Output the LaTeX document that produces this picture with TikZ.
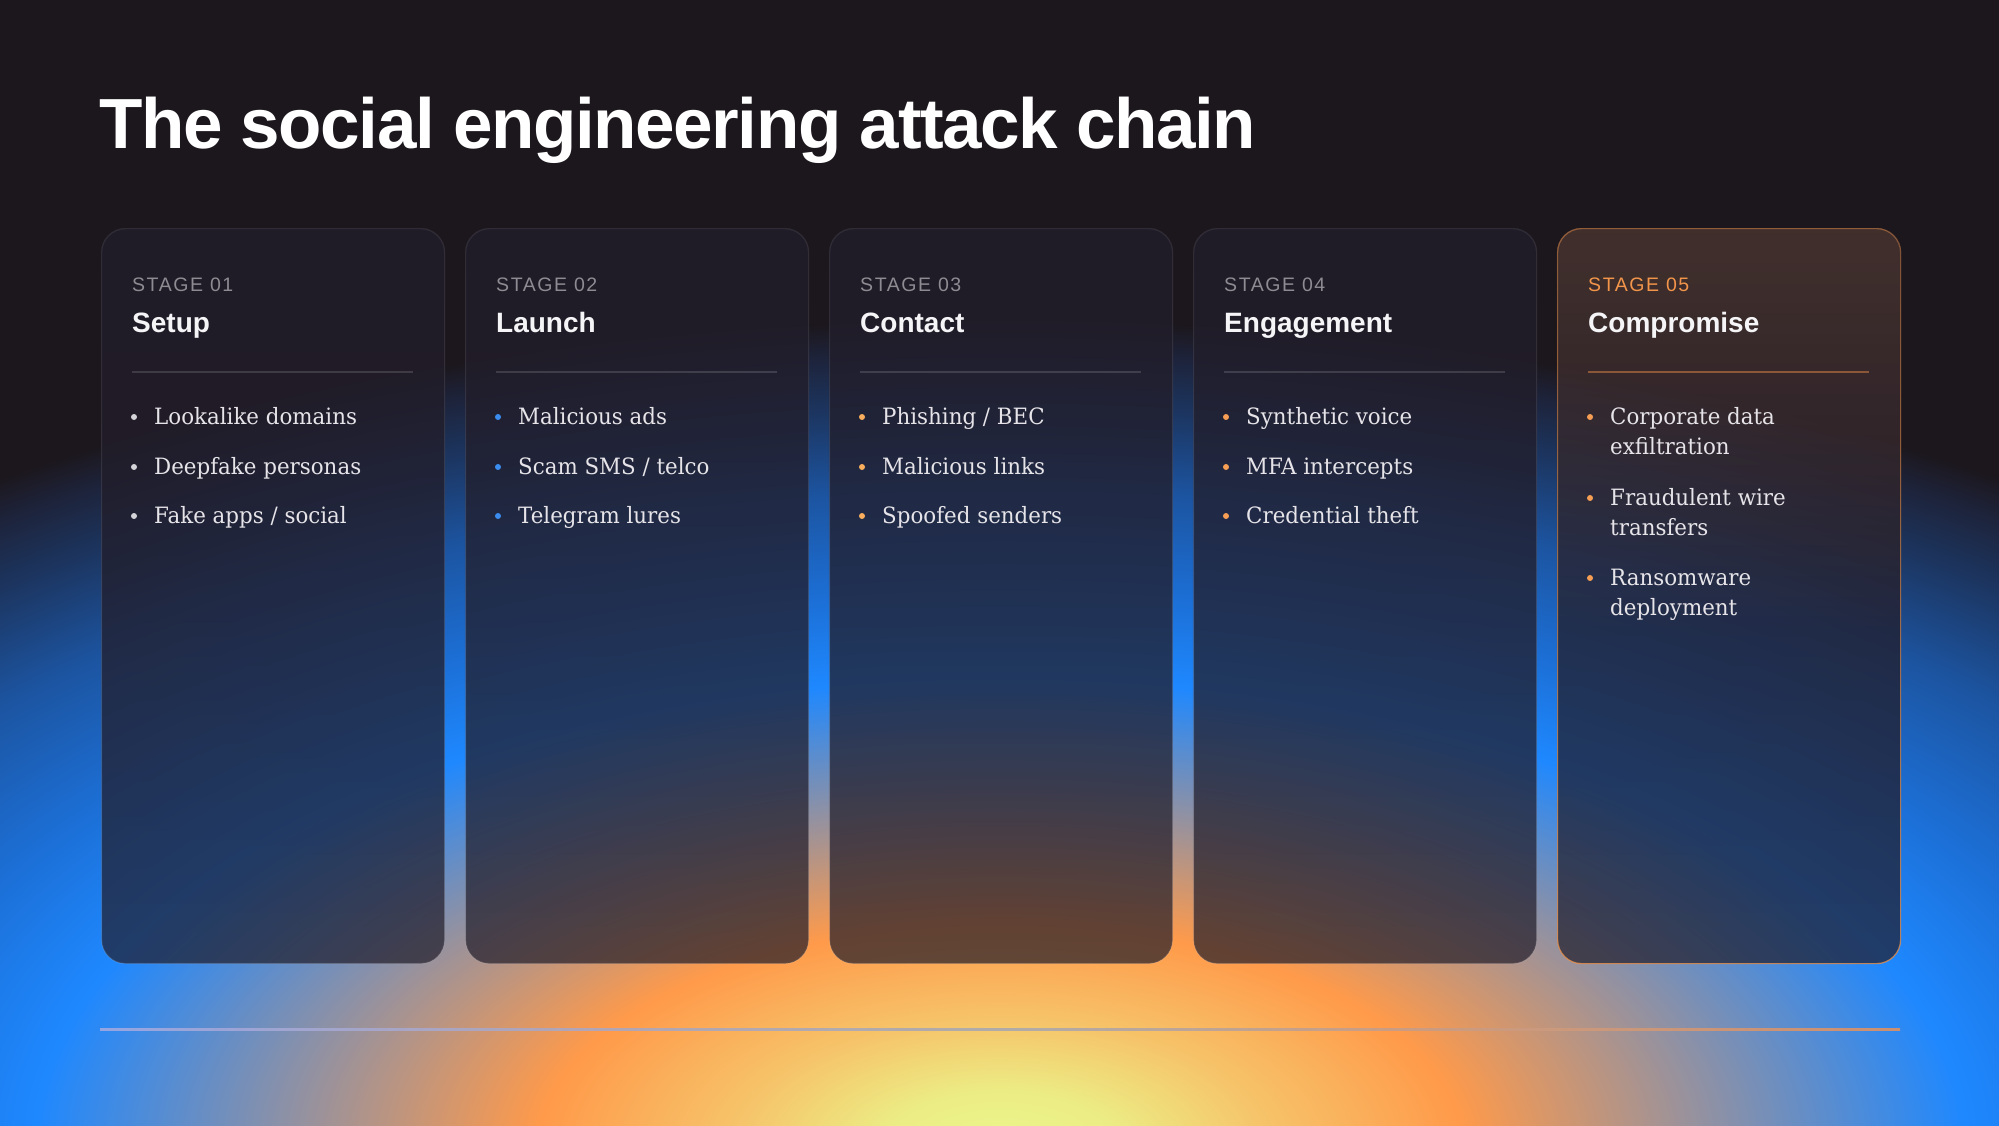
\documentclass[tikz,border=0pt]{standalone}
\usepackage{fontspec}
\usetikzlibrary{fadings}
\setmainfont{DejaVu Serif}[FakeStretch=0.95]
\newfontfamily\titlefont{Liberation Sans}[LetterSpace=-2]
\newfontfamily\headfont{Liberation Sans}
\newfontfamily\stagefont{Liberation Sans}[LetterSpace=8]

\definecolor{bgdark}{HTML}{1C171D}
\definecolor{g0}{HTML}{EAF88C}
\definecolor{g1}{HTML}{ECEC84}
\definecolor{g2}{HTML}{F6C46A}
\definecolor{g3}{HTML}{FF9A4A}
\definecolor{g4}{HTML}{1E88FF}
\definecolor{g5}{HTML}{1C6ED4}
\definecolor{g6}{HTML}{1C54A0}
\definecolor{g7}{HTML}{1C3662}
\definecolor{g8}{HTML}{1D2238}
\definecolor{cardbase}{HTML}{221E2B}
\definecolor{stagegray}{HTML}{8E8B93}
\definecolor{accent}{HTML}{F2954A}
\definecolor{headwhite}{HTML}{F5F5F7}
\definecolor{bodytext}{HTML}{E6E4E8}
\definecolor{dotA}{HTML}{D4D3D8}
\definecolor{dotB}{HTML}{3A8CEE}
\definecolor{dotC}{HTML}{F8AE5C}
\definecolor{dotD}{HTML}{F59E54}
\definecolor{lineL}{HTML}{A8AAE0}
\definecolor{lineM}{HTML}{A4A6B4}
\definecolor{lineR}{HTML}{E8925A}

\pgfdeclareradialshading{glow}{\pgfpoint{0bp}{0bp}}{%
  color(0bp)=(g0); color(1.8bp)=(g1); color(3.9bp)=(g2); color(6.8bp)=(g3);
  color(14.2bp)=(g4); color(16.9bp)=(g5); color(19.9bp)=(g6); color(22.3bp)=(g7);
  color(24.1bp)=(g8); color(25bp)=(bgdark); color(50bp)=(bgdark)}

\tikzset{
  cardbox/.style={rectangle, rounded corners=24pt, minimum width=343pt, minimum height=735pt,
    inner sep=0pt, anchor=north west, fill=cardbase, fill opacity=0.7,
    draw=white, draw opacity=0.13, line width=1.2pt},
  cardshade/.style={fill=cardbase, fill opacity=0.4, path fading=south, rounded corners=24pt},
  stagelbl/.style={anchor=base west, inner sep=0pt, font=\stagefont\fontsize{19.5}{22}\selectfont, text=stagegray},
  headlbl/.style={anchor=base west, inner sep=0pt, font=\headfont\bfseries\fontsize{28}{32}\selectfont, text=headwhite},
  itemtxt/.style={anchor=base west, inner sep=0pt, font=\fontsize{22.5}{28}\selectfont, text=bodytext},
  dot/.style={circle, inner sep=0pt, minimum size=6pt},
  divider/.style={draw=white, draw opacity=0.14, line width=1.2pt},
}

\begin{document}
\begin{tikzpicture}[x=1pt, y=-1pt]
\useasboundingbox (0,0) rectangle (1999,1125);
\clip (0,0) rectangle (1999,1125);
% background
\fill[bgdark] (0,0) rectangle (1999,1125);
\begin{scope}[shift={(1000,1150)}, xscale=2.05]
  \shade[shading=glow] (0,0) circle[radius=830];
\end{scope}

% title
\node[anchor=base west, inner sep=0pt, text=white, font=\titlefont\bfseries\fontsize{71}{80}\selectfont] (title) at (99,148) {The social engineering attack chain};

% cards
\node[cardbox] (c1) at (101,228) {};
\node[cardbox] (c2) at (465,228) {};
\node[cardbox] (c3) at (829,228) {};
\node[cardbox] (c4) at (1193,228) {};
\node[cardbox, draw=accent, draw opacity=0.75] (c5) at (1557,228) {};
\foreach \c in {c1,c2,c3,c4,c5}{
  \fill[cardshade] (\c.north west) rectangle (\c.south east);
}
\fill[accent, fill opacity=0.16, path fading=south, rounded corners=24pt]
  (1557,640) -- (1557,228) -- (1900,228) -- (1900,640) -- cycle;

% dividers
\draw[divider] (132,372) -- (413,372);
\draw[divider] (496,372) -- (777,372);
\draw[divider] (860,372) -- (1141,372);
\draw[divider] (1224,372) -- (1505,372);
\draw[divider, draw=accent, draw opacity=0.45] (1588,372) -- (1869,372);

% card 1
\node[stagelbl] (s1) at (132,291) {STAGE 01};
\node[headlbl] (h1) at (132,332) {Setup};
\node[dot, fill=dotA] (d11) at (134,417) {};
\node[itemtxt] (t11) at (154,424) {Lookalike domains};
\node[dot, fill=dotA] (d12) at (134,467) {};
\node[itemtxt] (t12) at (154,474) {Deepfake personas};
\node[dot, fill=dotA] (d13) at (134,516) {};
\node[itemtxt] (t13) at (154,523) {Fake apps / social};

% card 2
\node[stagelbl] (s2) at (496,291) {STAGE 02};
\node[headlbl] (h2) at (496,332) {Launch};
\node[dot, fill=dotB] (d21) at (498,417) {};
\node[itemtxt] (t21) at (518,424) {Malicious ads};
\node[dot, fill=dotB] (d22) at (498,467) {};
\node[itemtxt] (t22) at (518,474) {Scam SMS / telco};
\node[dot, fill=dotB] (d23) at (498,516) {};
\node[itemtxt] (t23) at (518,523) {Telegram lures};

% card 3
\node[stagelbl] (s3) at (860,291) {STAGE 03};
\node[headlbl] (h3) at (860,332) {Contact};
\node[dot, fill=dotC] (d31) at (862,417) {};
\node[itemtxt] (t31) at (882,424) {Phishing / BEC};
\node[dot, fill=dotC] (d32) at (862,467) {};
\node[itemtxt] (t32) at (882,474) {Malicious links};
\node[dot, fill=dotC] (d33) at (862,516) {};
\node[itemtxt] (t33) at (882,523) {Spoofed senders};

% card 4
\node[stagelbl] (s4) at (1224,291) {STAGE 04};
\node[headlbl] (h4) at (1224,332) {Engagement};
\node[dot, fill=dotD] (d41) at (1226,417) {};
\node[itemtxt] (t41) at (1246,424) {Synthetic voice};
\node[dot, fill=dotD] (d42) at (1226,467) {};
\node[itemtxt] (t42) at (1246,474) {MFA intercepts};
\node[dot, fill=dotD] (d43) at (1226,516) {};
\node[itemtxt] (t43) at (1246,523) {Credential theft};

% card 5
\node[stagelbl, text=accent] (s5) at (1588,291) {STAGE 05};
\node[headlbl] (h5) at (1588,332) {Compromise};
\node[dot, fill=dotD] (d51) at (1590,417) {};
\node[itemtxt] (t51a) at (1610,424) {Corporate data};
\node[itemtxt] (t51b) at (1610,454) {exfiltration};
\node[dot, fill=dotD] (d52) at (1590,498) {};
\node[itemtxt] (t52a) at (1610,505) {Fraudulent wire};
\node[itemtxt] (t52b) at (1610,535) {transfers};
\node[dot, fill=dotD] (d53) at (1590,578) {};
\node[itemtxt] (t53a) at (1610,585) {Ransomware};
\node[itemtxt] (t53b) at (1610,615) {deployment};

% bottom rule
\shade[left color=lineL, right color=lineR, middle color=lineM, opacity=0.85] (100,1028) rectangle (1900,1030.5);
\end{tikzpicture}
\end{document}
